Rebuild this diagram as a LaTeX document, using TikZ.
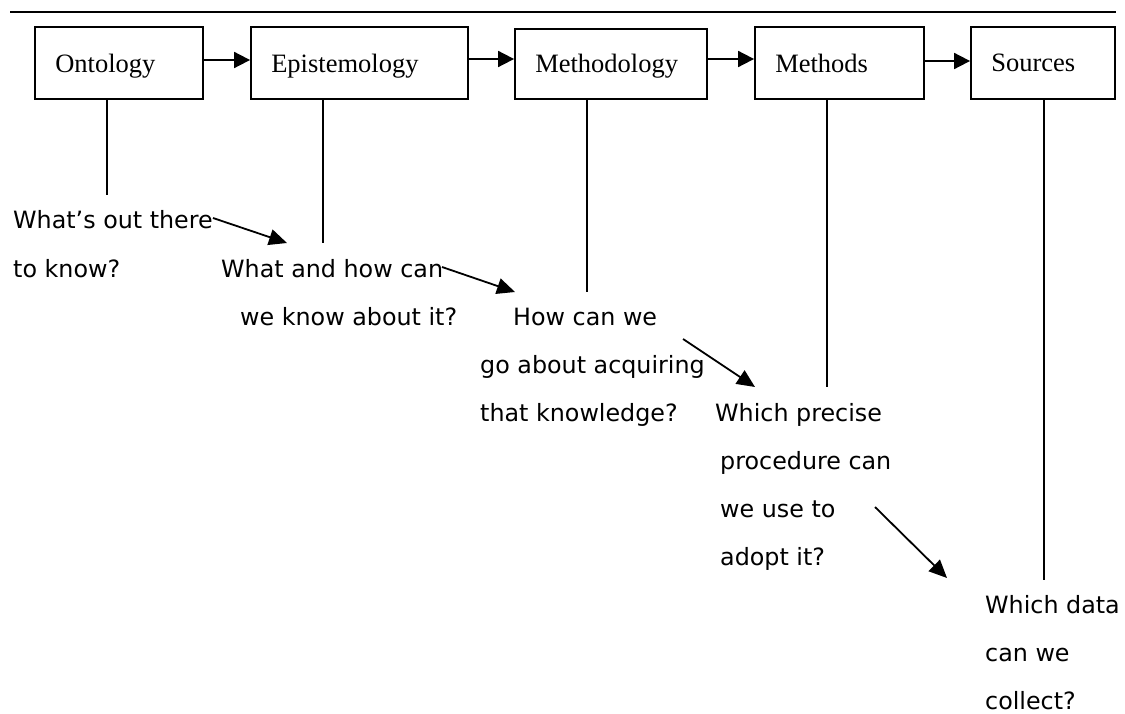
\documentclass[tikz,border=0pt]{standalone}
\usepackage{fontspec}
\setmainfont{Liberation Serif}
\newfontfamily\qfont{DejaVu Sans}
\usetikzlibrary{arrows.meta,calc}
\tikzset{
  stagebox/.style={draw, line width=1.8pt, inner sep=0pt},
  stagelbl/.style={anchor=base west, inner sep=0pt, font=\fontsize{26.5}{26.5}\selectfont},
  qtext/.style={anchor=base west, inner sep=0pt, font=\qfont\fontsize{23.8}{23.8}\selectfont},
  flow/.style={line width=1.8pt, -{Triangle[length=16pt,width=16pt]}},
  drop/.style={line width=1.8pt},
  hop/.style={line width=1.8pt, -{Triangle[length=18pt,width=16pt]}}
}
\begin{document}
\begin{tikzpicture}[x=1pt,y=-1pt]
\useasboundingbox (0,0) rectangle (1125,714);
% top rule
\coordinate (ruleL) at (10,12);
\coordinate (ruleR) at (1116,12);
\draw[line width=1.6pt] (ruleL) -- (ruleR);
% boxes
\node[stagebox, minimum width=168pt, minimum height=72pt] (ont) at (119,63) {};
\node[stagebox, minimum width=217pt, minimum height=72pt] (epi) at (359.5,63) {};
\node[stagebox, minimum width=192pt, minimum height=70pt] (mth) at (611,64) {};
\node[stagebox, minimum width=169pt, minimum height=72pt] (mds) at (839.5,63) {};
\node[stagebox, minimum width=144pt, minimum height=72pt] (src) at (1043,63) {};
\node[stagelbl] (ontl) at ($(ont.west)+(21,10)$) {Ontology};
\node[stagelbl] (epil) at ($(epi.west)+(21,10)$) {Epistemology};
\node[stagelbl] (mthl) at ($(mth.west)+(21,9)$) {Methodology};
\node[stagelbl] (mdsl) at ($(mds.west)+(21,10)$) {Methods};
\node[stagelbl] (srcl) at ($(src.west)+(21,9)$) {Sources};
% flow arrows
\draw[flow] (ont.east |- 0,60) -- (epi.west |- 0,60);
\draw[flow] (epi.east |- 0,59) -- (mth.west |- 0,59);
\draw[flow] (mth.east |- 0,59) -- (mds.west |- 0,59);
\draw[flow] (mds.east |- 0,61) -- (src.west |- 0,61);
% drop lines
\coordinate (ontd) at (107,195);
\coordinate (epid) at (323,243);
\coordinate (mthd) at (587,292);
\coordinate (mdsd) at (827,387);
\coordinate (srcd) at (1044,580);
\draw[drop] (ontd |- ont.south) -- (ontd);
\draw[drop] (epid |- epi.south) -- (epid);
\draw[drop] (mthd |- mth.south) -- (mthd);
\draw[drop] (mdsd |- mds.south) -- (mdsd);
\draw[drop] (srcd |- src.south) -- (srcd);
% question texts
\node[qtext] (q1a) at (13,229) {What’s out there};
\node[qtext] (q1b) at (13,277) {to know?};
\node[qtext] (q2a) at (221,277) {What and how can};
\node[qtext] (q2b) at (240,325) {we know about it?};
\node[qtext] (q3a) at (513,325) {How can we};
\node[qtext] (q3b) at (480,373) {go about acquiring};
\node[qtext] (q3c) at (480,421) {that knowledge?};
\node[qtext] (q4a) at (715,421) {Which precise};
\node[qtext] (q4b) at (720,469) {procedure can};
\node[qtext] (q4c) at (720,517) {we use to};
\node[qtext] (q4d) at (720,565) {adopt it?};
\node[qtext] (q5a) at (985,613) {Which data};
\node[qtext] (q5b) at (985,661) {can we};
\node[qtext] (q5c) at (985,709) {collect?};
% diagonal arrows
\coordinate (h1s) at (213,218);
\coordinate (h1e) at (287,243);
\coordinate (h2s) at (442,267);
\coordinate (h2e) at (515,292);
\coordinate (h3s) at (683,339);
\coordinate (h3e) at (755,387);
\coordinate (h4s) at (875,507);
\coordinate (h4e) at (947,578);
\draw[hop] (h1s) -- (h1e);
\draw[hop] (h2s) -- (h2e);
\draw[hop] (h3s) -- (h3e);
\draw[hop] (h4s) -- (h4e);
\end{tikzpicture}
\end{document}
